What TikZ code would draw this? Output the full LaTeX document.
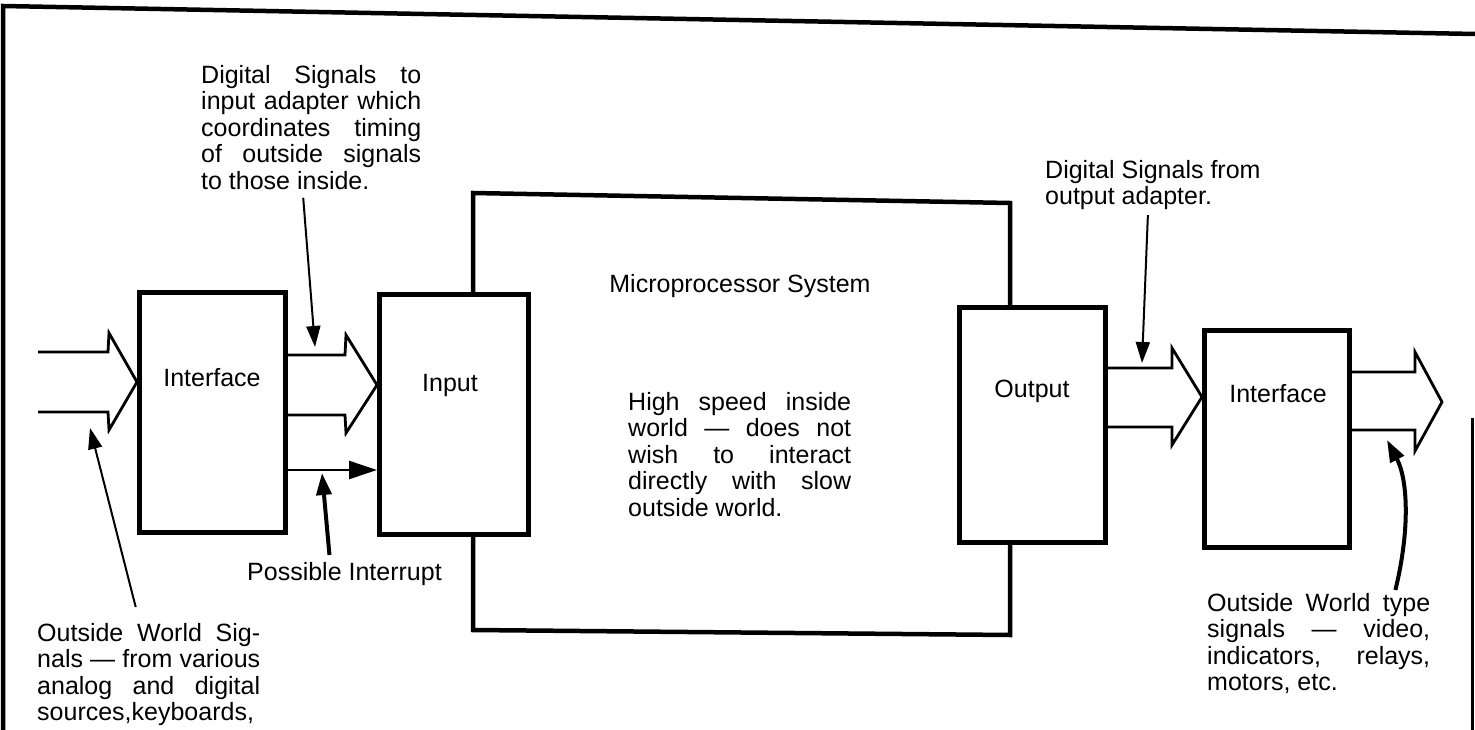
\documentclass[tikz,border=0pt]{standalone}
\usepackage{fontspec}
\setmainfont{Liberation Sans}
\usetikzlibrary{arrows.meta}
\begin{document}
\begin{tikzpicture}[x=1pt,y=-1pt,
  box/.style={draw,line width=4.5pt,line join=miter,rectangle,inner sep=0pt,anchor=north west},
  txt/.style={font=\fontsize{25}{26.5}\selectfont,inner sep=0pt,align=left,anchor=north west},
  lbl/.style={font=\fontsize{25}{26.5}\selectfont,inner sep=0pt,anchor=base},
  hollow/.style={draw,line width=2.8pt,line join=miter},
  frame/.style={draw,line width=4.5pt},
  ptr/.style={draw,line width=2pt,-{Triangle[length=21pt,width=14pt]}},
  ptrthick/.style={draw,line width=4pt,-{Triangle[length=22pt,width=15pt]}},
  intr/.style={draw,line width=2.5pt,-{Triangle[length=28pt,width=18pt]}},
]
\useasboundingbox (0,0) rectangle (1475,730);
% frame of the page
\draw[frame] (3,730) -- (3,6) -- (1475,34);
\draw[line width=3pt] (1472,418) -- (1472,730);

% boxes
\node[box,minimum width=146pt,minimum height=240pt] (ifl) at (137,290) {};
\node[box,minimum width=149pt,minimum height=240pt] (inp) at (377,292) {};
\node[box,minimum width=146pt,minimum height=235pt] (out) at (957,305) {};
\node[box,minimum width=145pt,minimum height=217pt] (ifr) at (1202,328) {};

% microprocessor system outline
\draw[frame,line join=miter] (inp.north -| 473,0) -- (473,193) -- (1010,203) -- (out.north -| 1010,0);
\draw[frame,line join=miter] (out.south -| 1010,0) -- (1010,635) -- (473,630) -- (inp.south -| 473,0);

% box labels
\node[lbl] (lifl) at (212,386) {Interface};
\node[lbl] (linp) at (450,391) {Input};
\node[lbl] (lout) at (1032,397) {Output};
\node[lbl] (lifr) at (1278,402) {Interface};
\node[lbl] (lmp) at (740,292) {Microprocessor System};

% hollow (bus) arrows
\draw[hollow] (38,352) -- (108,352) -- (109,333) -- (ifl.west |- 0,382) -- (109,430) -- (108,412) -- (38,412);
\draw[hollow] (ifl.east |- 0,355) -- (345,355) -- (346,335) -- (inp.west |- 0,385) -- (346,433) -- (345,415) -- (ifl.east |- 0,415);
\draw[hollow] (out.east |- 0,368) -- (1172,368) -- (1172,348) -- (ifr.west |- 0,397) -- (1172,445) -- (1172,427) -- (out.east |- 0,427);
\draw[hollow] (ifr.east |- 0,372) -- (1415,372) -- (1415,352) -- (1442,402) -- (1415,451) -- (1415,430) -- (ifr.east |- 0,430);

% interrupt line
\draw[intr] (ifl.east |- 0,470) -- (inp.west |- 0,470);

% text blocks
\node[txt] (dsig) at (201,65) {%
\makebox[220pt][s]{Digital Signals to}\\
\makebox[220pt][s]{input adapter which}\\
\makebox[220pt][s]{coordinates timing}\\
\makebox[220pt][s]{of outside signals}\\
to those inside.};

\node[txt] (pint) at (247,562) {Possible Interrupt};

\node[txt] (hs) at (628,392) {%
\makebox[223pt][s]{High speed inside}\\
\makebox[223pt][s]{world --- does not}\\
\makebox[223pt][s]{wish to interact}\\
\makebox[223pt][s]{directly with slow}\\
outside world.};

\node[txt] (ows) at (37,623) {%
\makebox[223pt][s]{Outside World Sig-}\\
\makebox[223pt][s]{nals --- from various}\\
\makebox[223pt][s]{analog and digital}\\
\makebox[223pt][s]{sources,keyboards,}};

\node[txt] (dsf) at (1045,160) {Digital Signals from\\output adapter.};

\node[txt] (owt) at (1207,593) {%
\makebox[223pt][s]{Outside World type}\\
\makebox[223pt][s]{signals --- video,}\\
\makebox[223pt][s]{indicators, relays,}\\
motors, etc.};

% pointer tips
\coordinate (tA) at (315,347);
\coordinate (tB) at (322,473);
\coordinate (tC) at (90,428);
\coordinate (tD) at (1142,363);
\coordinate (tE) at (1387,440);

% pointers
\draw[ptr] ([xshift=-8pt,yshift=-8pt]dsig.south) -- (tA);
\draw[ptrthick] ([xshift=-15pt,yshift=7pt]pint.north) -- (tB);
\draw[ptr] ([xshift=-13pt,yshift=16pt]ows.north) -- (tC);
\draw[ptr] ([xshift=-5pt,yshift=-5pt]dsf.south) -- (tD);
\draw[ptrthick] ([xshift=-35pt,yshift=3pt]owt.north east) .. controls (1410,530) and (1408,480) .. (tE);
\end{tikzpicture}
\end{document}
